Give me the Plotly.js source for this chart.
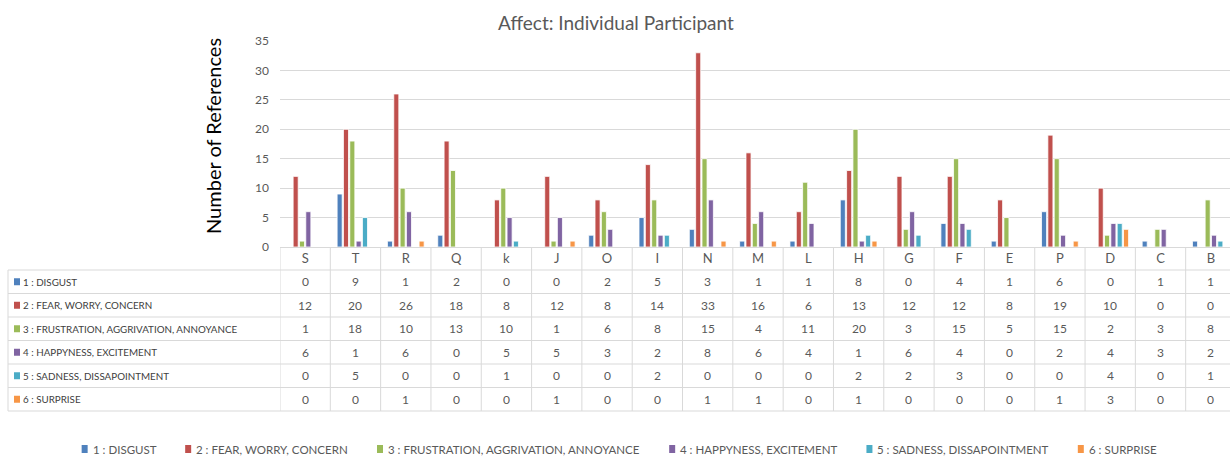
<!DOCTYPE html>
<html>
<head>
<meta charset="utf-8">
<script src="https://cdn.plot.ly/plotly-3.0.1.min.js"></script>
<style>
  html, body { margin: 0; padding: 0; overflow: hidden; background: #fff; }
</style>
</head>
<body>
<div id="chart" style="width:1236px;height:468px"></div>
<script>
// Participants (one column per participant) and the six affect codes
const participants = ['S','T','R','Q','k','J','O','I','N','M','L','H','G','F','E','P','D','C','B'];
const seriesNames = [
  '1 : DISGUST',
  '2 : FEAR, WORRY, CONCERN',
  '3 : FRUSTRATION, AGGRIVATION, ANNOYANCE',
  '4 : HAPPYNESS, EXCITEMENT',
  '5 : SADNESS, DISSAPOINTMENT',
  '6 : SURPRISE'
];
const disgust     = [0, 9, 1, 2, 0, 0, 2, 5, 3, 1, 1, 8, 0, 4, 1, 6, 0, 1, 1];
const fear        = [12, 20, 26, 18, 8, 12, 8, 14, 33, 16, 6, 13, 12, 12, 8, 19, 10, 0, 0];
const frustration = [1, 18, 10, 13, 10, 1, 6, 8, 15, 4, 11, 20, 3, 15, 5, 15, 2, 3, 8];
const happiness   = [6, 1, 6, 0, 5, 5, 3, 2, 8, 6, 4, 1, 6, 4, 0, 2, 4, 3, 2];
const sadness     = [0, 5, 0, 0, 1, 0, 0, 2, 0, 0, 0, 2, 2, 3, 0, 0, 4, 0, 1];
const surprise    = [0, 0, 1, 0, 0, 1, 0, 0, 1, 1, 0, 1, 0, 0, 0, 1, 3, 0, 0];
const yTicks = [0, 5, 10, 15, 20, 25, 30, 35];

const seriesValues = [disgust, fear, frustration, happiness, sadness, surprise];
const colors = ['#4F81BD', '#C0504D', '#9BBB59', '#8064A2', '#4BACC6', '#F79646'];

// Figure geometry (pixels)
const W = 1236, H = 468;
const M = { l: 280, r: 0, t: 41, b: 221 };
const plotW = W - M.l - M.r, plotH = H - M.t - M.b;
const px = x => (x - M.l) / plotW;          // pixel x -> paper x
const py = y => (H - M.b - y) / plotH;      // pixel y -> paper y

const FONT = 'Lato, "Open Sans", sans-serif';
const GREY = '#595959';
const GRID = '#D9D9D9';

const traces = seriesValues.map((vals, i) => ({
  type: 'bar',
  name: seriesNames[i],
  x: participants,
  y: vals,
  marker: { color: colors[i], line: { color: '#FFFFFF', width: 0.8 } },
  hoverinfo: 'x+y+name'
}));

// Data table under the plot
const tableLeft = 8;
const headerTop = H - M.b;       // baseline of the bars
const rowTop = 270;
const rowH = 23.5;
const nRows = seriesNames.length;
const tableBottom = rowTop + rowH * nRows;

const shapes = [];
const annotations = [];

// horizontal rules
for (let r = 0; r <= nRows; r++) {
  const y = rowTop + r * rowH;
  shapes.push({ type: 'line', xref: 'paper', yref: 'paper',
    x0: px(tableLeft), x1: 1, y0: py(y), y1: py(y),
    line: { color: GRID, width: 1 } });
}
// left border of the label column
shapes.push({ type: 'line', xref: 'paper', yref: 'paper',
  x0: px(tableLeft), x1: px(tableLeft), y0: py(rowTop), y1: py(tableBottom),
  line: { color: GRID, width: 1 } });
// column separators
for (let c = 0; c <= participants.length; c++) {
  shapes.push({ type: 'line', xref: 'x', yref: 'paper',
    x0: c - 0.5, x1: c - 0.5, y0: py(headerTop), y1: py(tableBottom),
    line: { color: GRID, width: 1 } });
}

// row labels with colour keys, and the cell values
seriesNames.forEach((name, r) => {
  const yc = rowTop + r * rowH + rowH / 2;
  shapes.push({ type: 'rect', xref: 'paper', yref: 'paper',
    x0: px(14), x1: px(20), y0: py(yc + 3.5), y1: py(yc - 3.5),
    fillcolor: colors[r], line: { width: 0 } });
  annotations.push({ xref: 'paper', yref: 'paper', x: px(21), y: py(yc),
    xanchor: 'left', yanchor: 'middle', showarrow: false, text: name,
    font: { family: FONT, size: 9.8, color: '#404040' } });
  seriesValues[r].forEach((v, c) => {
    annotations.push({ xref: 'x', yref: 'paper', x: c, y: py(yc),
      xanchor: 'center', yanchor: 'middle', showarrow: false, text: String(v),
      font: { family: FONT, size: 12, color: GREY } });
  });
});

// legend along the bottom, laid out from measured label widths
const LEG_FONT_SIZE = 11.5;
const ctx = document.createElement('canvas').getContext('2d');
ctx.font = LEG_FONT_SIZE + 'px Lato, "Open Sans", sans-serif';
const keyW = 6, keyGap = 3, itemGap = 31;
const widths = seriesNames.map(n => ctx.measureText(n).width);
const total = widths.reduce((a, w) => a + keyW + keyGap + w, 0) + itemGap * (widths.length - 1);
let lx = 618 - total / 2;
const legY = 449;
seriesNames.forEach((name, i) => {
  shapes.push({ type: 'rect', xref: 'paper', yref: 'paper',
    x0: px(lx), x1: px(lx + keyW), y0: py(legY + 4), y1: py(legY - 4),
    fillcolor: colors[i], line: { width: 0 } });
  annotations.push({ xref: 'paper', yref: 'paper', x: px(lx + keyW + keyGap), y: py(legY),
    xanchor: 'left', yanchor: 'middle', showarrow: false, text: name,
    font: { family: FONT, size: LEG_FONT_SIZE, color: GREY } });
  lx += keyW + keyGap + widths[i] + itemGap;
});

// chart title and y-axis title
annotations.push({ xref: 'paper', yref: 'paper', x: px(616), y: py(22),
  xanchor: 'center', yanchor: 'middle', showarrow: false,
  text: 'Affect: Individual Participant',
  font: { family: FONT, size: 19, color: GREY } });
annotations.push({ xref: 'paper', yref: 'paper', x: px(213), y: py(136),
  xanchor: 'center', yanchor: 'middle', showarrow: false, textangle: -90,
  text: 'Number of References',
  font: { family: FONT, size: 20, color: '#000000' } });

const layout = {
  width: W, height: H,
  margin: M,
  paper_bgcolor: '#FFFFFF', plot_bgcolor: '#FFFFFF',
  barmode: 'group',
  bargap: 0.245,
  bargroupgap: 0.2,
  font: { family: FONT, color: GREY },
  xaxis: {
    type: 'category',
    range: [-0.5, participants.length - 0.5],
    showgrid: false, zeroline: false, showline: false,
    ticks: '', ticklabelstandoff: 2,
    tickfont: { family: FONT, size: 13, color: GREY }
  },
  yaxis: {
    range: [0, 35],
    tickvals: yTicks,
    showgrid: true, gridcolor: GRID, gridwidth: 1,
    zeroline: true, zerolinecolor: GRID, zerolinewidth: 1,
    showline: false, ticks: '', ticklabelstandoff: 10,
    tickfont: { family: FONT, size: 12, color: GREY }
  },
  showlegend: false,
  shapes: shapes,
  annotations: annotations
};

Plotly.newPlot('chart', traces, layout, { displayModeBar: false, staticPlot: true });
</script>
</body>
</html>
